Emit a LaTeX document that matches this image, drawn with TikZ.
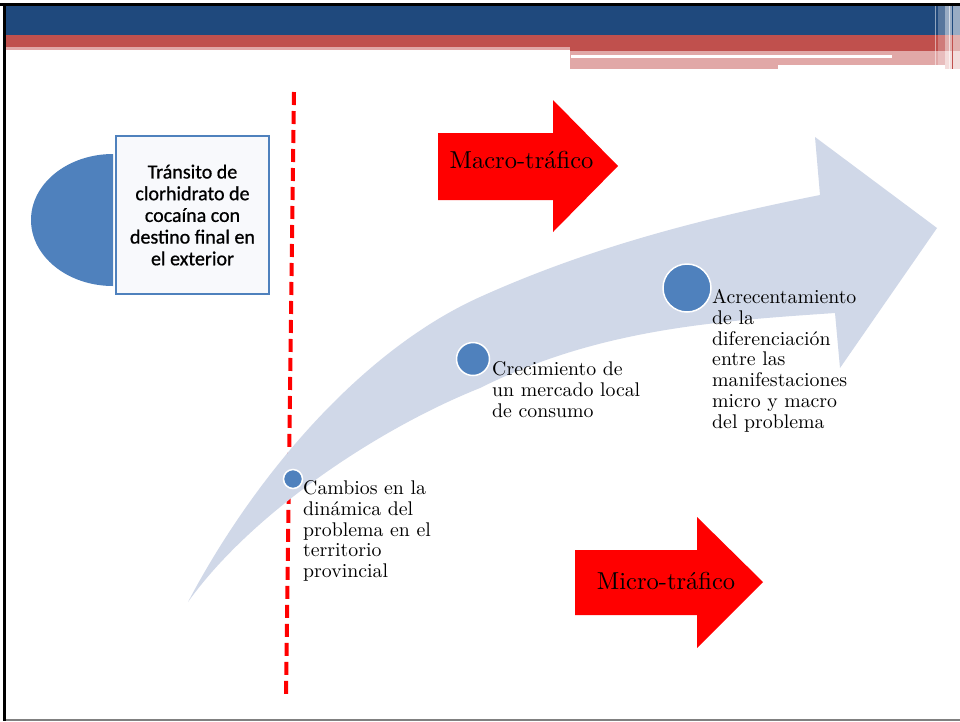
\documentclass[tikz,border=0pt]{standalone}
\usepackage{fontspec}
\newfontfamily\boxfont{Carlito}[FakeBold=0.8]
\newfontfamily\stepfont{lmroman10-regular}[Extension=.otf]
\definecolor{hdrblue}{RGB}{31,73,125}
\definecolor{hdrred}{RGB}{192,80,77}
\definecolor{hdrpink}{RGB}{225,168,167}
\definecolor{accent}{RGB}{79,129,189}
\definecolor{bandcol}{RGB}{208,216,232}
\definecolor{boxfill}{RGB}{248,249,252}
\begin{document}
\begin{tikzpicture}[x=1pt,y=-1pt,
  dot/.style={circle,fill=accent,draw=white,line width=1.5pt,inner sep=0pt},
  steptext/.style={anchor=north west,inner sep=0pt,align=left,font=\stepfont\fontsize{19.8}{20.7}\selectfont},
  redarrow/.style={fill=red},
  arrowlabel/.style={anchor=base,inner sep=0pt,font=\stepfont\fontsize{24.5}{28}\selectfont}]
\useasboundingbox (0,0) rectangle (960,721);
\fill[white] (0,0) rectangle (960,721);
% header bands
\fill[hdrblue] (6,5.7) rectangle (960,35);
\fill[hdrred] (6,35) rectangle (960,46.5);
\fill[hdrred] (570,46) rectangle (960,51);
\fill[hdrpink] (6,46.5) rectangle (570,50);
\fill[hdrpink] (570,51) rectangle (778,69);
\fill[hdrpink] (778,51) rectangle (945,65);
\fill[white] (571,55) rectangle (892,58);
% right-edge stripes
\fill[white,opacity=0.25] (938,5.7) rectangle (945,65);
\fill[white,opacity=0.55] (945,5.7) rectangle (960,69);
\fill[hdrpink,opacity=0.4] (945,51) rectangle (960,69);
\draw[white,opacity=0.5,line width=0.8pt] (935.5,5.7) -- (935.5,65);
\draw[white,opacity=0.6,line width=0.8pt] (949.5,5.7) -- (949.5,69);
\draw[hdrblue,line width=0.8pt] (952.5,5.7) -- (952.5,35);
\draw[hdrred,line width=0.8pt] (952.5,35) -- (952.5,69);
% frame
\fill[black] (0,3) rectangle (960,5.7);
\fill[black] (3,3) rectangle (6,721);
\fill[gray] (6,719.4) rectangle (960,721);
% dashed divider (behind the band)
\coordinate (dtop) at (294,92);
\coordinate (dbot) at (286,695);
\draw[red,line width=4pt,dash pattern=on 13pt off 6pt] (dtop) -- (dbot);
% big curved arrow
\fill[bandcol] (188,602) .. controls (253,478.5) and (360,351) .. (480,297)
  .. controls (593,246) and (707,217.6) .. (820,195)
  -- (815,137) -- (937,228) -- (840,368) -- (835,313)
  .. controls (717,321) and (598,329) .. (480,388)
  .. controls (375,430) and (250,515) .. (188,602) -- cycle;
% red arrows
\fill[redarrow] (438,133) -- (553,133) -- (553,100) -- (618,166) -- (553,232) -- (553,200) -- (438,200) -- cycle;
\node[arrowlabel] (macro) at (521.5,168) {Macro-tráfico};
\fill[redarrow] (575,550) -- (697,550) -- (697,517) -- (763,582) -- (697,648) -- (697,615) -- (575,615) -- cycle;
\node[arrowlabel] (micro) at (666,589) {Micro-tráfico};
% left half ellipse and box
\begin{scope}
\clip (25,140) rectangle (113,300);
\fill[accent] (113,220) ellipse [x radius=82, y radius=66];
\end{scope}
\node[draw=accent,line width=1.5pt,fill=boxfill,minimum width=153,minimum height=158,align=center,inner sep=0pt,
  font=\boxfont\fontsize{20}{21.7}\selectfont] (box) at (192.5,215)
  {Tránsito de\\clorhidrato de\\cocaína con\\destino final en\\el exterior};
% dots and texts
\node[dot,minimum size=19] (d1) at (293,479) {};
\node[dot,minimum size=33] (d2) at (473,359) {};
\node[dot,minimum size=48] (d3) at (687,288) {};
\node[steptext] (t1) at (303,480.5) {Cambios en la\\dinámica del\\problema en el\\territorio\\provincial};
\node[steptext] (t2) at (492,361.5) {Crecimiento de\\un mercado local\\de consumo};
\node[steptext] (t3) at (712,289.5) {Acrecentamiento\\de la\\diferenciación\\entre las\\manifestaciones\\micro y macro\\del problema};
\end{tikzpicture}
\end{document}
